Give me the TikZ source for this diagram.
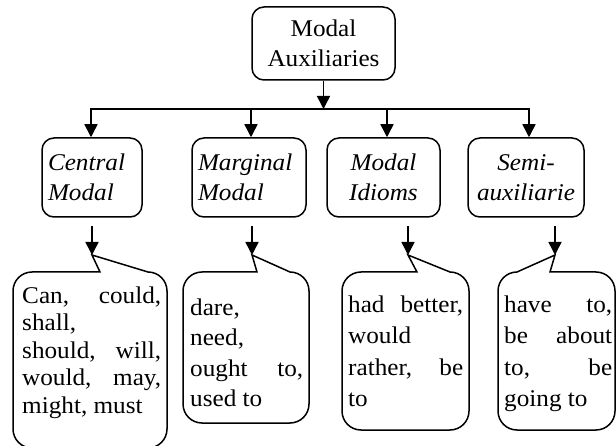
\documentclass[tikz,border=0pt]{standalone}
\usepackage{fontspec}
\setmainfont{Liberation Serif}[FakeStretch=1.05]
\usetikzlibrary{arrows.meta}

\begin{document}
\begin{tikzpicture}[x=1pt,y=1pt,
        box/.style={draw,line width=1.5pt,rounded corners=12pt,inner sep=0pt,font=\fontsize{24}{30}\selectfont},
        kind/.style={box,minimum height=79pt,font=\fontsize{24}{30}\selectfont\itshape},
        body/.style={inner sep=0pt,anchor=north west,align=justify,font=\fontsize{24}{30.5}\selectfont},
        bubble/.style={line width=1.5pt,line join=miter},
        arr/.style={line width=1.5pt,-{Triangle[width=13pt,length=13pt]}}]
        \useasboundingbox (0,0) rectangle (616,445);
        \node[box,minimum width=143pt,minimum height=73pt,align=center] (modal) at (323.5,401.5) {Modal\\Auxiliaries};
        \node[kind,minimum width=100pt,text width=88pt,align=left] (central) at (92,267.5) {Central\\Modal};
        \node[kind,minimum width=114pt,text width=102pt,align=left] (marginal) at (249,267.5) {Marginal\\Modal};
        \node[kind,minimum width=113pt,align=center] (idioms) at (383.5,267.5) {Modal\\Idioms};
        \node[kind,minimum width=116pt,align=center] (semi) at (526,267.5) {Semi-\\auxiliarie};
        % the branching line
        \coordinate (split) at (modal.south |- 0,336);
        \coordinate (j1) at (91,336);
        \coordinate (j2) at (251,336);
        \coordinate (j3) at (387,336);
        \coordinate (j4) at (529,336);
        \draw[arr] (modal.south) -- (split);
        \draw[arr] (split) -- (j1) -- (j1 |- central.north);
        \draw[arr] (split) -- (j4) -- (j4 |- semi.north);
        \draw[arr] (j2) -- (j2 |- marginal.north);
        \draw[arr] (j3) -- (j3 |- idioms.north);
        % the speech bubbles, tips first
        \coordinate (t1) at (92,190);
        \coordinate (t2) at (252,190);
        \coordinate (t3) at (408,190);
        \coordinate (t4) at (555,190);
        \coordinate (s1) at (92,219);
        \coordinate (s2) at (252,219);
        \coordinate (s3) at (408,219);
        \coordinate (s4) at (555,219);
        \draw[bubble] (100,173) -- (32,173) arc[start angle=90,end angle=180,radius=19] -- (13,16) arc[start angle=180,end angle=270,radius=19]
            -- (148,-3) arc[start angle=270,end angle=360,radius=19] -- (167,154) arc[start angle=0,end angle=90,radius=19] -- (t1) -- cycle;
        \draw[bubble] (257,173) -- (202,173) arc[start angle=90,end angle=180,radius=19] -- (183,41) arc[start angle=180,end angle=270,radius=19]
            -- (290,22) arc[start angle=270,end angle=360,radius=19] -- (309,154) arc[start angle=0,end angle=90,radius=19] -- (t2) -- cycle;
        \draw[bubble] (417,173) -- (361,173) arc[start angle=90,end angle=180,radius=19] -- (342,34) arc[start angle=180,end angle=270,radius=19]
            -- (450,15) arc[start angle=270,end angle=360,radius=19] -- (469,154) arc[start angle=0,end angle=90,radius=19] -- (t3) -- cycle;
        \draw[bubble] (550,173) -- (596,173) arc[start angle=90,end angle=0,radius=19] -- (615,34) arc[start angle=0,end angle=-90,radius=19]
            -- (517,15) arc[start angle=270,end angle=180,radius=19] -- (498,154) arc[start angle=180,end angle=90,radius=19] -- (t4) -- cycle;
        \draw[arr] (s1) -- (t1);
        \draw[arr] (s2) -- (t2);
        \draw[arr] (s3) -- (t3);
        \draw[arr] (s4) -- (t4);
        \node[body,text width=139pt,font=\fontsize{24}{27.5}\selectfont] (centrallist) at (22,158.4) {Can, could,\linebreak shall,\newline should, will,\linebreak would, may,\linebreak might, must};
        \node[body,text width=113pt] (marginallist) at (190,146.4) {dare,\newline need,\newline ought to,\linebreak used to};
        \node[body,text width=115pt,font=\fontsize{24}{31.5}\selectfont] (idiomslist) at (348,149.4) {had better,\linebreak would\newline rather, be\linebreak to};
        \node[body,text width=108pt,font=\fontsize{24}{31.5}\selectfont] (semilist) at (504,149.4) {have to,\linebreak be about\linebreak to, be\linebreak going to};
\end{tikzpicture}
\end{document}
